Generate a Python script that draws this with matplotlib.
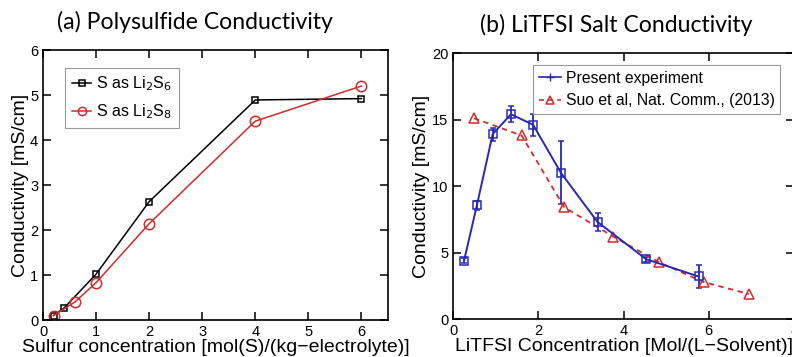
import matplotlib.pyplot as plt
from matplotlib.lines import Line2D

# (a) polysulfide conductivity
s_li2s6 = [0.2, 0.4, 1, 2, 4, 6]
k_li2s6 = [0.1, 0.27, 1.02, 2.63, 4.89, 4.92]
s_li2s8 = [0.2, 0.6, 1, 2, 4, 6]
k_li2s8 = [0.1, 0.4, 0.83, 2.14, 4.42, 5.2]

# (b) LiTFSI salt conductivity
c_exp = [0.26, 0.56, 0.93, 1.36, 1.88, 2.53, 3.39, 4.53, 5.76]
k_exp = [4.4, 8.55, 13.9, 15.4, 14.6, 11.0, 7.3, 4.5, 3.2]
err_exp = [0.2, 0.35, 0.5, 0.6, 0.85, 2.35, 0.7, 0.2, 0.85]
c_suo = [0.49, 1.61, 2.61, 3.76, 4.84, 5.88, 6.94]
k_suo = [15.1, 13.8, 8.4, 6.2, 4.26, 2.78, 1.88]

plt.rcParams['font.family'] = ['Liberation Sans', 'DejaVu Sans']

red = '#d42a2a'
blue = '#2828b8'

fig = plt.figure(figsize=(7.92, 3.57), dpi=100)
ax1 = fig.add_axes([0.0543, 0.1036, 0.4356, 0.7563])
ax2 = fig.add_axes([0.572, 0.1064, 0.4305, 0.745])

def style(ax):
    ax.tick_params(direction='in', top=True, right=True, length=6,
                   width=1.1, labelsize=10.5, pad=3.5)
    for sp in ax.spines.values():
        sp.set_linewidth(1.2)

# 左图
ax1.plot(s_li2s6, k_li2s6, '-s', color='black', lw=1.1, ms=5,
         mfc='none', mew=1.1, label='S as Li$_2$S$_6$')
ax1.plot(s_li2s8, k_li2s8, '-o', color=red, lw=1.1, ms=7.5,
         mfc='none', mew=1.1, label='S as Li$_2$S$_8$')
ax1.set_xlim(0, 6.5)
ax1.set_ylim(0, 6)
ax1.set_xticks(range(0, 7))
ax1.set_yticks(range(0, 7))
ax1.set_xlabel('Sulfur concentration [mol(S)/(kg\u2212electrolyte)]',
               fontsize=14, labelpad=0)
ax1.set_ylabel('Conductivity [mS/cm]', fontsize=14, labelpad=1)
style(ax1)
leg1 = ax1.legend(loc='upper left', bbox_to_anchor=(0.064, 0.935),
                  borderaxespad=0, fontsize=11.5, handlelength=1.2,
                  handletextpad=0.3, borderpad=0.45, labelspacing=0.55,
                  fancybox=False, edgecolor='#999999', framealpha=1,
                  markerscale=0.8)
leg1.get_frame().set_linewidth(0.8)
ax1.set_title('(a) Polysulfide Conductivity', family='Lato', fontsize=16.6,
              x=0.44, pad=15)

# 右图
ax2.errorbar(c_exp, k_exp, yerr=err_exp, fmt='-s', color=blue, lw=1.4,
             ms=5.5, mfc='none', mew=1.1, elinewidth=1.3, capsize=2.5,
             capthick=1.1)
ax2.plot(c_suo, k_suo, '--^', color=red, lw=1.3, ms=7, mfc='none',
         mew=1.1, dashes=(3, 2.5))
ax2.set_xlim(0, 8)
ax2.set_ylim(0, 20)
ax2.set_xticks(range(0, 9, 2))
ax2.set_yticks(range(0, 21, 5))
ax2.set_xlabel('LiTFSI Concentration [Mol/(L\u2212Solvent)]',
               fontsize=14, labelpad=0)
ax2.set_ylabel('Conductivity [mS/cm]', fontsize=14, labelpad=1)
style(ax2)
h_exp = Line2D([], [], color=blue, lw=1.2, marker='+', ms=6, mew=1.0)
h_suo = Line2D([], [], color=red, lw=1.2, ls='--', dashes=(3, 2.5),
               marker='^', ms=6, mfc='none', mew=1.1)
leg2 = ax2.legend([h_exp, h_suo],
                  ['Present experiment', 'Suo et al, Nat. Comm., (2013)'],
                  loc='upper right', bbox_to_anchor=(0.959, 0.955),
                  borderaxespad=0, fontsize=11.3, handlelength=1.4,
                  handletextpad=0.3, borderpad=0.35, labelspacing=0.5,
                  fancybox=False, edgecolor='#999999', framealpha=1)
leg2.get_frame().set_linewidth(0.8)
ax2.set_title('(b) LiTFSI Salt Conductivity', family='Lato', fontsize=16.6,
              x=0.48, pad=15)

fig.savefig('out.png', dpi=100)
